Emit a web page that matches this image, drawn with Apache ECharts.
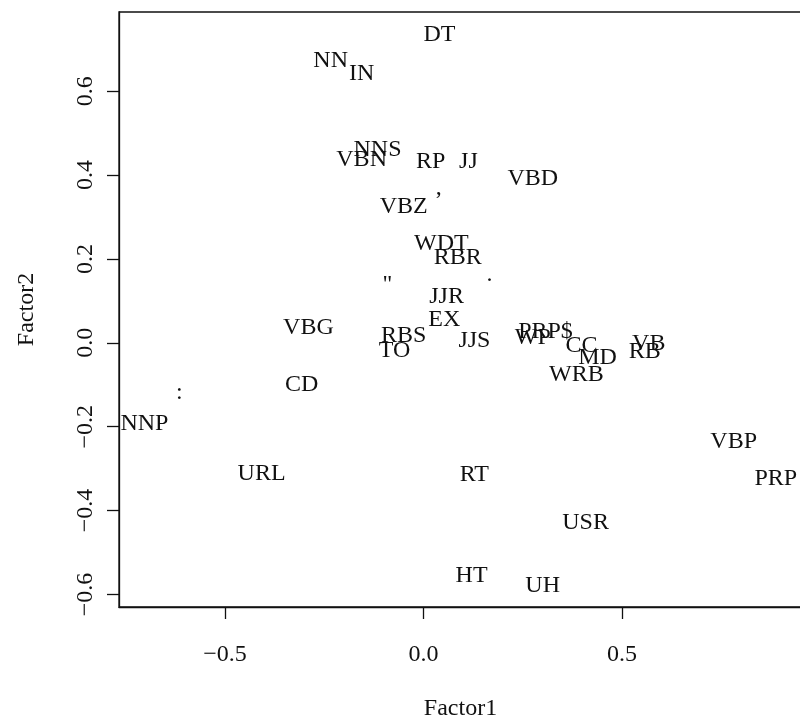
<!DOCTYPE html>
<html>
<head>
<meta charset="utf-8">
<script src="https://cdn.jsdelivr.net/npm/echarts@6/dist/echarts.min.js"></script>
<style>
html,body{margin:0;padding:0;background:#fff;}
#chart{width:800px;height:721px;}
</style>
</head>
<body>
<div id="chart"></div>
<script>
// Data: part-of-speech tags with their factor scores
const tags = ['DT','NN','IN','NNS','VBN','RP','JJ','VBD',',','VBZ','WDT','RBR',"''",'.','JJR','EX','VBG','RBS','TO','JJS','PRP$','WP','CC','MD','VB','RB','WRB','CD',':','NNP','URL','RT','VBP','PRP','USR','HT','UH'];
const factor1 = [0.040,-0.234,-0.156,-0.116,-0.156,0.018,0.113,0.275,0.038,-0.050,0.045,0.086,-0.091,0.166,0.058,0.052,-0.290,-0.050,-0.073,0.128,0.307,0.275,0.398,0.438,0.567,0.557,0.385,-0.307,-0.615,-0.703,-0.408,0.128,0.781,0.887,0.408,0.121,0.300];
const factor2 = [0.734,0.674,0.643,0.461,0.437,0.432,0.432,0.392,0.370,0.325,0.237,0.204,0.139,0.163,0.111,0.056,0.035,0.018,-0.018,0.004,0.027,0.013,-0.006,-0.035,-0.001,-0.020,-0.077,-0.101,-0.120,-0.194,-0.311,-0.315,-0.235,-0.325,-0.430,-0.556,-0.580];
const xTicks = [-0.5, 0.0, 0.5];
const yTicks = [-0.6, -0.4, -0.2, 0.0, 0.2, 0.4, 0.6];

const FONT = 'Liberation Serif';
const INK = '#111111';
const fmt = v => (v < 0 ? '\u2212' : '') + Math.abs(v).toFixed(1);

const points = tags.map((t, i) => ({ value: [factor1[i], factor2[i]], name: t }));

const chart = echarts.init(document.getElementById('chart'), null, { renderer: 'canvas' });
chart.setOption({
  animation: false,
  backgroundColor: '#fff',
  grid: { left: 119, top: 12, width: 683, height: 595, show: true, borderColor: INK, borderWidth: 1.3, backgroundColor: 'transparent', containLabel: false, outerBoundsMode: 'none' },
  xAxis: {
    type: 'value', min: -0.767, max: 0.953,
    name: 'Factor1', nameLocation: 'middle', nameGap: 90,
    nameTextStyle: { fontFamily: FONT, fontSize: 24, color: INK },
    splitLine: { show: false },
    axisLine: { show: true, onZero: false, lineStyle: { color: INK, width: 1.3 } },
    axisTick: { show: true, customValues: xTicks, length: 12, lineStyle: { color: INK, width: 1.3 } },
    axisLabel: { customValues: xTicks, formatter: fmt, margin: 36, fontFamily: FONT, fontSize: 24, color: INK }
  },
  yAxis: {
    type: 'value', min: -0.63, max: 0.789,
    name: 'Factor2', nameLocation: 'middle', nameGap: 80, nameRotate: 90,
    nameTextStyle: { fontFamily: FONT, fontSize: 24, color: INK },
    splitLine: { show: false },
    axisLine: { show: true, onZero: false, lineStyle: { color: INK, width: 1.3 } },
    axisTick: { show: true, customValues: yTicks, length: 12, lineStyle: { color: INK, width: 1.3 } },
    axisLabel: { customValues: yTicks, formatter: fmt, rotate: 90, margin: 21, fontFamily: FONT, fontSize: 24, color: INK }
  },
  series: [{
    type: 'scatter',
    data: points,
    symbol: 'circle',
    symbolSize: 1,
    itemStyle: { color: 'rgba(0,0,0,0)', opacity: 1 },
    clip: false,
    label: {
      show: true,
      position: 'inside',
      formatter: p => p.name,
      fontFamily: FONT,
      fontSize: 24,
      color: INK,
      opacity: 1,
      textBorderWidth: 0,
      align: 'center',
      verticalAlign: 'middle'
    },
    emphasis: { disabled: true }
  }]
});
</script>
</body>
</html>
